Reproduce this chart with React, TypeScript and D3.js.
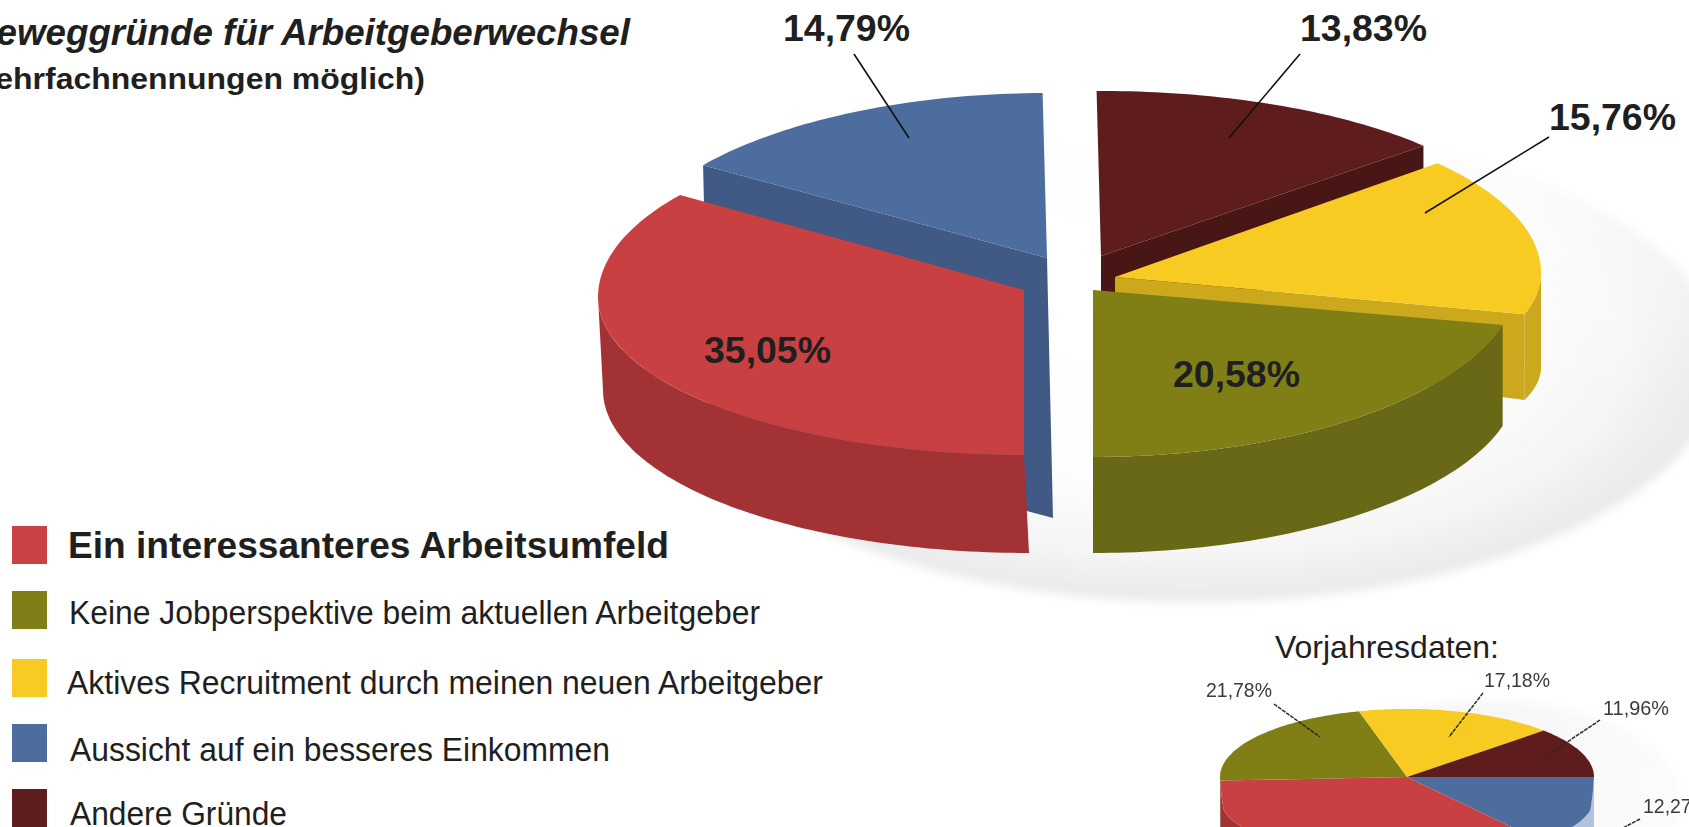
import React from "react";
import * as d3 from "d3";

const W = 1689, H = 827;
const FONT = "'Liberation Sans', Arial, sans-serif";
const INK = "#1f1f1f";

const currentKeys = ["interessant", "einkommen", "andere", "recruitment", "perspektive"];
const currentValues = [35.05, 14.79, 13.83, 15.76, 20.58];
const currentLabels = ["35,05%", "14,79%", "13,83%", "15,76%", "20,58%"];
const previousKeys = ["einkommen", "interessant", "perspektive", "recruitment", "andere"];
const previousValues = [12.27, 36.81, 21.78, 17.18, 11.96];
const previousLabels = ["12,27%", "", "21,78%", "17,18%", "11,96%"];
const legendKeys = ["interessant", "perspektive", "recruitment", "einkommen", "andere"];
const legendLabels = [
  "Ein interessanteres Arbeitsumfeld",
  "Keine Jobperspektive beim aktuellen Arbeitgeber",
  "Aktives Recruitment durch meinen neuen Arbeitgeber",
  "Aussicht auf ein besseres Einkommen",
  "Andere Gründe",
];

const topColor = d3.scaleOrdinal<string, string>()
  .domain(["interessant", "einkommen", "andere", "recruitment", "perspektive"])
  .range(["#c94142", "#4e6d9f", "#5e1d1e", "#f8cb24", "#7f7f17"]);
const wallColor = d3.scaleOrdinal<string, string>()
  .domain(["interessant", "einkommen", "andere", "recruitment", "perspektive"])
  .range(["#a33334", "#3f5a85", "#4a1213", "#cba81e", "#696712"]);

// Placement of each exploded slice: apex, rim ellipse (upper / lower half) and foot ellipse of the wall.
const mainLayout: Record<string, any> = {
  interessant: { cx: 1024, cy: 290, cyUp: 297, ryUp: 173, cyDown: 297, ryDown: 158, footCy: 390, footRy: 163, skew: 5, order: 3 },
  einkommen: { cx: 1047, cy: 258, cyUp: 269, ryUp: 176, cyDown: 269, ryDown: 176, footCy: 520, footRy: 170, skew: 6, order: 0, apexDepth: 260 },
  andere: { cx: 1101, cy: 256, cyUp: 249, ryUp: 158, cyDown: 249, ryDown: 158, footCy: 340, footRy: 158, skew: 0, order: 1, apexDepth: 90 },
  recruitment: { cx: 1115, cy: 277, cyUp: 273, ryUp: 168, cyDown: 273, ryDown: 150, footCy: 367, footRy: 120, skew: 0, order: 2, apexDepth: 70 },
  perspektive: { cx: 1093, cy: 290, cyUp: 275, ryUp: 182, cyDown: 275, ryDown: 182, footCy: 378, footRy: 175, skew: 0, order: 4 },
};
const RX = 426;

const line = d3.line();
const rim = (a: number, g: any, rx: number): [number, number] => {
  const c = Math.cos(a);
  if (c >= 0) return [g.cx + rx * Math.sin(a), g.cyUp - g.ryUp * c];
  const t = Math.max(0, Math.min(1, (-c - 0.06) / 0.14));
  return [g.cx + rx * Math.sin(a), g.cyUp + (g.cyDown - g.cyUp) * t - g.ryDown * c];
};
const foot = (a: number, g: any, rx: number): [number, number] => [
  g.cx + g.skew + rx * Math.sin(a),
  g.footCy - g.footRy * Math.cos(a),
];
const samples = (a0: number, a1: number) => {
  const n = Math.max(2, Math.ceil(Math.abs(a1 - a0) / 0.02));
  const s = d3.scaleLinear().domain([0, n]).range([a0, a1]);
  return d3.range(n + 1).map((i) => s(i));
};
const topPath = (a0: number, a1: number, g: any, rx: number) =>
  line([[g.cx, g.cy], ...samples(a0, a1).map((a) => rim(a, g, rx))])! + "Z";
const radialWall = (a: number, g: any, rx: number) => {
  const r = rim(a, g, rx);
  const down = g.apexDepth;
  const outerDown = Math.cos(a) >= 0 ? r[1] + down : foot(a, g, rx)[1];
  return line([
    [g.cx, g.cy],
    r,
    [r[0] + g.skew, outerDown],
    [g.cx + g.skew, g.cy + down],
  ])! + "Z";
};
const curvedWall = (a0: number, a1: number, g: any, rx: number) => {
  const turn = a0 >= 2 * Math.PI ? 2 * Math.PI : 0;
  const lo = Math.max(a0 - turn, Math.PI / 2);
  const hi = Math.min(a1 - turn, (3 * Math.PI) / 2);
  if (hi <= lo) return null;
  const ang = samples(lo, hi);
  return (
    line([
      ...ang.map((a) => rim(a, g, rx)),
      ...ang.slice().reverse().map((a) => foot(a, g, rx)),
    ])! + "Z"
  );
};

const mainArcs = d3.pie<number>().sort(null).startAngle(Math.PI).endAngle(3 * Math.PI)(currentValues)
  .map((d, i) => ({ ...d, key: currentKeys[i], g: mainLayout[currentKeys[i]] }))
  .sort((a, b) => a.g.order - b.g.order);

const prevGeom = { cx: 1407, cy: 777, cyUp: 777, ryUp: 68, cyDown: 798, ryDown: 62, footCy: 890, footRy: 62, skew: 0 };
const PREV_RX = 187;
const prevArcs = d3.pie<number>().sort(null).startAngle(Math.PI / 2).endAngle(2.5 * Math.PI)(previousValues)
  .map((d, i) => ({ ...d, key: previousKeys[i] }));

const T = ({ x, y, len, size, bold, italic, fill, children }: any) => (
  <text
    x={x}
    y={y}
    fontFamily={FONT}
    fontSize={size}
    fontWeight={bold ? "bold" : "normal"}
    fontStyle={italic ? "italic" : "normal"}
    fill={fill || INK}
    textLength={len}
    lengthAdjust="spacingAndGlyphs"
  >
    {children}
  </text>
);

const legendRows = [
  { top: 526, tx: 68, base: 558, len: 601, size: 37, bold: true },
  { top: 591, tx: 69, base: 624, len: 691, size: 33, bold: false },
  { top: 659, tx: 67, base: 694, len: 756, size: 33, bold: false },
  { top: 724, tx: 70, base: 761, len: 540, size: 33, bold: false },
  { top: 789, tx: 70, base: 825, len: 217, size: 33, bold: false },
];

const mainLabelPos: Record<string, any> = {
  interessant: { x: 704, y: 363, leader: null },
  einkommen: { x: 783, y: 41, leader: [[854, 54], [909, 138]] },
  andere: { x: 1300, y: 41, leader: [[1300, 54], [1229, 138]] },
  recruitment: { x: 1549, y: 130, leader: [[1549, 137], [1425, 213]] },
  perspektive: { x: 1173, y: 387, leader: null },
};
const prevLabelPos: Record<string, any> = {
  einkommen: { x: 1643, y: 813, leader: [[1640, 819], [1600, 840]] },
  perspektive: { x: 1206, y: 697, leader: [[1274, 704], [1320, 737]] },
  recruitment: { x: 1484, y: 687, leader: [[1483, 693], [1449, 737]] },
  andere: { x: 1603, y: 715, leader: [[1600, 720], [1545, 757]] },
};

export default function App() {
  return (
    <svg
      width={W}
      height={H}
      viewBox={`0 0 ${W} ${H}`}
      style={{ position: "fixed", left: 0, top: 0, background: "#fff", display: "block" }}
    >
      <defs>
        <radialGradient id="shadowFill" cx="0.5" cy="0.5" r="0.5" fx="0.42" fy="0.35">
          <stop offset="0" stopColor="#ffffff" />
          <stop offset="0.62" stopColor="#fdfdfd" />
          <stop offset="0.85" stopColor="#f5f5f6" />
          <stop offset="1" stopColor="#e9e9eb" />
        </radialGradient>
        <linearGradient id="shadowFade" x1="0" y1="0" x2="0" y2="1">
          <stop offset="0.05" stopColor="#000" />
          <stop offset="0.55" stopColor="#fff" />
        </linearGradient>
        <mask id="shadowMask" maskUnits="userSpaceOnUse" x="0" y="0" width={W} height={H}>
          <rect x={600} y={110} width={1089} height={510} fill="url(#shadowFade)" />
        </mask>
        <linearGradient id="prevShadow" x1="0" y1="0" x2="1" y2="0">
          <stop offset="0" stopColor="#f3f3f4" />
          <stop offset="1" stopColor="#fbfbfb" />
        </linearGradient>
        <filter id="soft" x="-5%" y="-5%" width="110%" height="110%">
          <feGaussianBlur stdDeviation="0.7" />
        </filter>
        <filter id="softer" x="-5%" y="-5%" width="110%" height="110%">
          <feGaussianBlur stdDeviation="0.45" />
        </filter>
        <filter id="shadowBlur" x="-10%" y="-10%" width="120%" height="120%">
          <feGaussianBlur stdDeviation="5" />
        </filter>
      </defs>

      {/* floor shadow of the main pie */}
      <g mask="url(#shadowMask)">
        <ellipse cx={1195} cy={362} rx={525} ry={240} fill="url(#shadowFill)" filter="url(#shadowBlur)" />
      </g>

      {/* main exploded pie */}
      <g filter="url(#soft)">
        {mainArcs.map((d) => {
          const wall = curvedWall(d.startAngle, d.endAngle, d.g, RX);
          return (
            <g key={d.key}>
              {d.key === "einkommen" && <path d={radialWall(d.startAngle, d.g, RX)} fill={wallColor(d.key)} />}
              {d.key === "andere" && <path d={radialWall(d.endAngle, d.g, RX)} fill={wallColor(d.key)} />}
              {d.key === "recruitment" && <path d={radialWall(d.endAngle, d.g, RX)} fill={wallColor(d.key)} />}
              {wall && <path d={wall} fill={wallColor(d.key)} />}
              <path d={topPath(d.startAngle, d.endAngle, d.g, RX)} fill={topColor(d.key)} />
            </g>
          );
        })}
      </g>

      {/* main labels */}
      {currentKeys.map((k, i) => {
        const p = mainLabelPos[k];
        return (
          <g key={k}>
            {p.leader && <path d={line(p.leader)!} stroke="#111" strokeWidth={1.6} fill="none" />}
            <T x={p.x} y={p.y} len={127} size={37} bold>{currentLabels[i]}</T>
          </g>
        );
      })}

      {/* title */}
      <T x={-30} y={45} len={660} size={37} bold italic>Beweggründe für Arbeitgeberwechsel</T>
      <T x={-42} y={89} len={467} size={30} bold>(Mehrfachnennungen möglich)</T>

      {/* legend */}
      {legendKeys.map((k, i) => {
        const r = legendRows[i];
        return (
          <g key={k}>
            <rect x={12} y={r.top} width={35} height={38} fill={topColor(k)} />
            <T x={r.tx} y={r.base} len={r.len} size={r.size} bold={r.bold}>{legendLabels[i]}</T>
          </g>
        );
      })}

      {/* previous-year pie */}
      <T x={1275} y={658} len={224} size={32}>Vorjahresdaten:</T>
      <ellipse cx={1490} cy={800} rx={190} ry={100} fill="url(#prevShadow)" filter="url(#shadowBlur)" />
      <g filter="url(#softer)">
        {prevArcs.map((d) => {
          const wall = curvedWall(d.startAngle, d.endAngle, prevGeom, PREV_RX);
          return wall ? (
            <path key={d.key} d={wall} fill={d.key === "einkommen" ? "#b2c1dc" : wallColor(d.key)} />
          ) : null;
        })}
        {prevArcs.map((d) => (
          <path key={d.key} d={topPath(d.startAngle, d.endAngle, prevGeom, PREV_RX)} fill={topColor(d.key)} />
        ))}
        {previousKeys.map((k, i) => {
          const p = prevLabelPos[k];
          if (!p) return null;
          return (
            <g key={k}>
              <path d={line(p.leader)!} stroke="#2a2a2a" strokeWidth={1.5} strokeDasharray="4 1" fill="none" />
              <T x={p.x} y={p.y} len={66} size={21} fill="#3a3a3a">{previousLabels[i]}</T>
            </g>
          );
        })}
      </g>
    </svg>
  );
}
